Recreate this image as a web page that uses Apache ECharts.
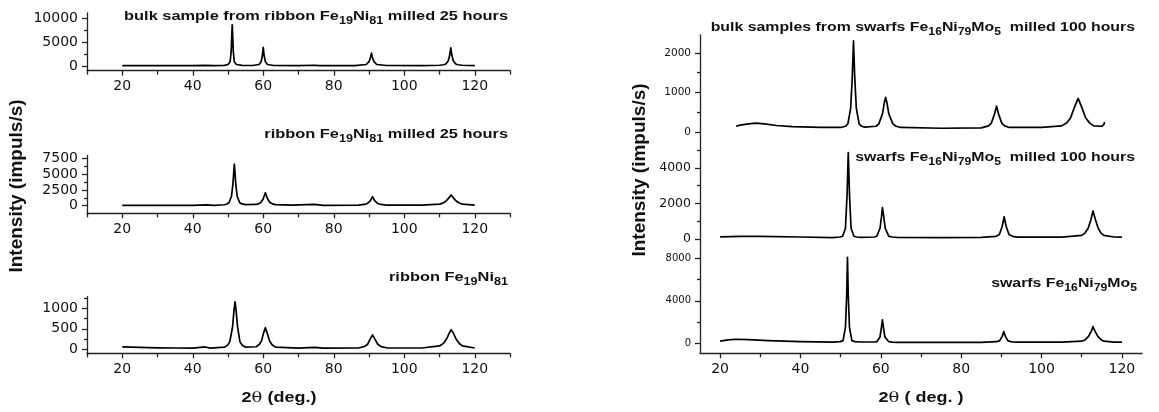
<!DOCTYPE html>
<html><head><meta charset="utf-8">
<script src="https://cdn.jsdelivr.net/npm/echarts@6/dist/echarts.min.js"></script>
<style>html,body{margin:0;padding:0;background:#fff}#c{width:1159px;height:412px}</style>
</head><body><div id="c"></div>
<script>
// ---------------- DATA ----------------
// 2theta (deg) / intensity (impuls/s) pairs
const ribbonBulk25h = [
 [20,80],[30,60],[40,60],[43.5,120],[46,60],[49,120],[50,300],[50.35,500],[50.6,900],[50.9,3000],[51.05,6000],[51.2,8650],[51.35,6000],[51.5,3000],[51.8,900],[52.1,500],[52.4,300],[54,120],[57,100],[58.8,300],[59.1,500],[59.4,900],[59.75,2200],[60.0,3930],[60.25,2200],[60.6,900],[60.9,500],[61.2,300],[63,100],[70,60],[74.5,150],[76,60],[86,80],[89.2,300],[89.6,500],[90.0,900],[90.4,1700],[90.7,2700],[91.0,1700],[91.4,900],[91.8,500],[92.2,300],[95,100],[105,80],[110,150],[111.2,250],[111.8,400],[112.5,1100],[112.9,2300],[113.2,3800],[113.5,2300],[113.9,1100],[114.6,400],[115.2,250],[116.5,150],[120,80]
];
const ribbonMilled25h = [
 [20,60],[30,40],[40,50],[43.8,130],[46,60],[49,150],[49.7,280],[50.3,500],[51.0,1500],[51.4,3500],[51.8,6600],[52.2,3500],[52.6,1500],[53.3,500],[53.9,280],[55,180],[58,200],[58.7,300],[59.3,500],[60.0,1100],[60.6,2060],[61.2,1100],[61.9,500],[62.6,300],[63.5,180],[68,80],[74.5,200],[77,60],[87,80],[88.7,200],[89.5,350],[90.4,800],[91.0,1420],[91.6,800],[92.5,350],[93.4,200],[95,100],[105,100],[110,250],[111.0,420],[111.8,700],[112.6,1200],[113.3,1700],[114.0,1200],[114.8,700],[115.6,420],[116.5,250],[120,100]
];
const ribbonAsCast = [
 [20,55],[25,45],[30,35],[35,30],[40,25],[43.5,55],[45,25],[49,50],[49.9,100],[50.5,180],[51.3,550],[51.7,950],[52.0,1160],[52.3,950],[52.7,550],[53.4,180],[54.1,90],[55,50],[58,60],[58.9,120],[59.5,200],[60.1,400],[60.6,527],[61.1,400],[61.8,200],[62.5,110],[63.5,50],[70,25],[74.5,45],[77,25],[87,30],[88.8,70],[89.6,120],[90.4,260],[91.0,350],[91.6,260],[92.5,120],[93.4,65],[95,35],[105,30],[110,80],[111.2,150],[112.0,250],[112.8,400],[113.3,480],[113.9,400],[114.7,250],[115.6,140],[116.5,80],[120,30]
];
const swarfsBulk100h = [
 [24,140],[25,170],[27,200],[29,220],[31,200],[34,160],[38,130],[45,110],[50,110],[51.2,140],[51.8,200],[52.5,600],[52.9,1400],[53.2,2300],[53.5,1400],[53.9,600],[54.6,200],[55.2,140],[56,120],[58.8,140],[59.5,200],[60.4,450],[60.9,750],[61.2,870],[61.5,750],[62.0,450],[63,200],[63.8,140],[65,110],[75,90],[85,100],[86.8,150],[87.5,220],[88.3,450],[88.8,650],[89.3,450],[90.1,220],[90.8,150],[92,110],[100,110],[105,150],[106.3,230],[107.2,350],[108.3,650],[109.1,845],[109.9,650],[111,350],[112,220],[113,150],[115,140],[115.5,180],[115.7,250]
];
const swarfsMilled100h = [
 [20,120],[25,150],[30,140],[40,110],[48,80],[49.8,110],[50.5,150],[51.2,600],[51.6,2500],[51.9,4850],[52.2,2500],[52.6,600],[53.3,150],[54,110],[55,90],[58.4,110],[59,150],[59.8,600],[60.2,1300],[60.4,1760],[60.7,1300],[61.1,600],[62,150],[62.8,110],[64,90],[75,80],[85,90],[88.7,150],[89.5,250],[90.2,700],[90.7,1250],[91.2,700],[91.9,250],[92.8,150],[94,100],[105,100],[110,200],[110.8,330],[111.6,600],[112.3,1100],[112.8,1570],[113.4,1100],[114.1,600],[114.8,330],[115.5,200],[118,110],[120,100]
];
const swarfsAsIs = [
 [20,200],[22,320],[24,380],[27,340],[32,250],[40,150],[48,110],[49.9,160],[50.6,250],[51.2,1500],[51.5,4500],[51.7,8110],[51.9,4500],[52.2,1500],[52.8,250],[53.6,160],[55,120],[58.4,120],[59,150],[59.8,600],[60.15,1500],[60.4,2200],[60.65,1500],[61.0,600],[62,150],[62.8,110],[64,90],[75,80],[85,90],[88.8,150],[89.6,250],[90.2,650],[90.6,1100],[91.0,650],[91.6,250],[92.4,150],[93.5,100],[105,100],[110,200],[110.9,340],[111.7,650],[112.4,1150],[112.8,1570],[113.3,1150],[114,650],[114.8,340],[115.5,200],[118,110],[120,100]
];

// tick labels
const xTicks = [20,40,60,80,100,120];
const xMinorLeft = [10,30,50,70,90,110,130];
const xMinorRight = [30,50,70,90,110];
const yTicksTL = [0,5000,10000], yMinorTL = [2500,7500];
const yTicksML = [0,2500,5000,7500], yMinorML = [1250,3750,6250];
const yTicksBL = [0,500,1000], yMinorBL = [250,750,1250];
const yTicksTR = [0,1000,2000], yMinorTR = [500,1500];
const yTicksMR = [0,2000,4000], yMinorMR = [1000,3000,5000];
const yTicksBR = [0,4000,8000], yMinorBR = [2000,6000];

// texts
const titleTL = '{n|bulk sample from ribbon Fe}{s|19}{n|Ni}{s|81}{n| milled 25 hours}';
const titleML = '{n|ribbon Fe}{s|19}{n|Ni}{s|81}{n| milled 25 hours}';
const titleBL = '{n|ribbon Fe}{s|19}{n|Ni}{s|81}';
const titleTR = '{n|bulk samples from swarfs Fe}{s|16}{n|Ni}{s|79}{n|Mo}{s|5}{n|  milled 100 hours}';
const titleMR = '{n|swarfs Fe}{s|16}{n|Ni}{s|79}{n|Mo}{s|5}{n|  milled 100 hours}';
const titleBR = '{n|swarfs Fe}{s|16}{n|Ni}{s|79}{n|Mo}{s|5}';
const yTitle = 'Intensity (impuls/s)';
const xTitleLeft = '{b|2}{t|θ}{b| (deg.)}';
const xTitleRight = '{b|2}{t|θ}{b| ( deg. )}';

// ---------------- LAYOUT ----------------
const SANS = '"Liberation Sans", Arial, sans-serif';
const TICKF = '"DejaVu Sans", sans-serif';
const INK = '#111';
const panels = [
 {grid:{left:87, top:13, width:423, height:57.7}, x:[10,130], y:[-1000,11150], yMaj:yTicksTL, yMin:yMinorTL, xMin:xMinorLeft, xShow:true, yFs:14, data:ribbonBulk25h},
 {grid:{left:87, top:155.5, width:423, height:57.8}, x:[10,130], y:[-1200,7950], yMaj:yTicksML, yMin:yMinorML, xMin:xMinorLeft, xShow:true, yFs:14, data:ribbonMilled25h},
 {grid:{left:87, top:296.7, width:423, height:56.6}, x:[10,130], y:[-100,1285], yMaj:yTicksBL, yMin:yMinorBL, xMin:xMinorLeft, xShow:true, yFs:14, data:ribbonAsCast},
 {grid:{left:700, top:35, width:442, height:113}, x:[15,125], y:[-410,2450], yMaj:yTicksTR, yMin:yMinorTR, xMin:xMinorRight, xShow:false, yFs:10.5, data:swarfsBulk100h},
 {grid:{left:700, top:148, width:442, height:102}, x:[15,125], y:[-620,5110], yMaj:yTicksMR, yMin:yMinorMR, xMin:xMinorRight, xShow:false, yFs:12.5, data:swarfsMilled100h},
 {grid:{left:700, top:250, width:442, height:103.3}, x:[15,125], y:[-945,8800], yMaj:yTicksBR, yMin:yMinorBR, xMin:xMinorRight, xShow:true, yFs:10, data:swarfsAsIs}
];

const axLine = {color:'#222', width:1.3};
const plain = v => String(v);
const grid = [], xAxis = [], yAxis = [], series = [];
panels.forEach((p, i) => {
  grid.push(Object.assign({outerBoundsMode:'none', containLabel:false}, p.grid));
  xAxis.push({gridIndex:i, type:'value', min:p.x[0], max:p.x[1], position:'bottom', show:p.xShow,
    axisLine:{show:true, onZero:false, lineStyle:axLine},
    axisTick:{show:true, inside:false, length:5, customValues:xTicks, lineStyle:axLine},
    axisLabel:{show:true, customValues:xTicks, formatter:plain, fontFamily:TICKF, fontSize:14, color:INK, margin:9},
    splitLine:{show:false}});
  xAxis.push({gridIndex:i, type:'value', min:p.x[0], max:p.x[1], position:'bottom', show:p.xShow,
    axisLine:{show:false, onZero:false},
    axisTick:{show:true, inside:false, length:4, customValues:p.xMin, lineStyle:axLine},
    axisLabel:{show:false}, splitLine:{show:false}});
  yAxis.push({gridIndex:i, type:'value', min:p.y[0], max:p.y[1], position:'left',
    axisLine:{show:true, onZero:false, lineStyle:axLine},
    axisTick:{show:true, inside:false, length:5, customValues:p.yMaj, lineStyle:axLine},
    axisLabel:{show:true, customValues:p.yMaj, formatter:plain, fontFamily:TICKF, fontSize:p.yFs, color:INK, margin:9},
    splitLine:{show:false}});
  yAxis.push({gridIndex:i, type:'value', min:p.y[0], max:p.y[1], position:'left',
    axisLine:{show:false, onZero:false},
    axisTick:{show:true, inside:false, length:3, customValues:p.yMin, lineStyle:axLine},
    axisLabel:{show:false}, splitLine:{show:false}});
  series.push({type:'line', xAxisIndex:2*i, yAxisIndex:2*i, data:p.data, showSymbol:false, symbol:'none',
    lineStyle:{color:'#000', width:1.7, join:'round'}, smooth:false, silent:true});
});

function rich(nSize, sSize, pad) {
  return {
    n:{fontFamily:SANS, fontWeight:'bold', fontSize:nSize, fill:INK},
    s:{fontFamily:SANS, fontWeight:'bold', fontSize:sSize, fill:INK, padding:[pad,0,0,0]}
  };
}
function titleEl(text, x, y, sx) {
  return {type:'text', x:x, y:y, scaleX:sx, silent:true,
    style:{text:text, rich:rich(13, 10, 10), fontFamily:SANS, fontWeight:'bold', fontSize:13,
      align:'right', verticalAlign:'middle', textAlign:'right', textVerticalAlign:'middle', fill:INK}};
}
const xRich = {
  b:{fontFamily:SANS, fontWeight:'bold', fontSize:15, fill:INK},
  t:{fontFamily:'"DejaVu Serif", "Liberation Serif", serif', fontSize:15, fill:INK}
};
const graphic = [
  titleEl(titleTL, 508, 16, 1.26),
  titleEl(titleML, 508, 134, 1.26),
  titleEl(titleBL, 508, 277, 1.26),
  titleEl(titleTR, 1135, 27, 1.22),
  titleEl(titleMR, 1135, 157, 1.22),
  titleEl(titleBR, 1137, 283, 1.22),
  {type:'text', x:17, y:186, rotation:Math.PI/2, silent:true,
    style:{text:yTitle, fontFamily:SANS, fontWeight:'bold', fontSize:19, fill:INK,
      align:'center', verticalAlign:'middle', textAlign:'center', textVerticalAlign:'middle'}},
  {type:'text', x:640, y:170, rotation:Math.PI/2, silent:true,
    style:{text:yTitle, fontFamily:SANS, fontWeight:'bold', fontSize:19, fill:INK,
      align:'center', verticalAlign:'middle', textAlign:'center', textVerticalAlign:'middle'}},
  {type:'text', x:279, y:398, scaleX:1.2, silent:true,
    style:{text:xTitleLeft, rich:xRich, fontSize:15, align:'center', verticalAlign:'middle', textAlign:'center', textVerticalAlign:'middle', fill:INK}},
  {type:'text', x:921, y:398, scaleX:1.2, silent:true,
    style:{text:xTitleRight, rich:xRich, fontSize:15, align:'center', verticalAlign:'middle', textAlign:'center', textVerticalAlign:'middle', fill:INK}}
];

const chart = echarts.init(document.getElementById('c'), null, {renderer:'canvas', width:1159, height:412});
chart.setOption({animation:false, backgroundColor:'#fff', grid, xAxis, yAxis, series, graphic});
</script></body></html>
